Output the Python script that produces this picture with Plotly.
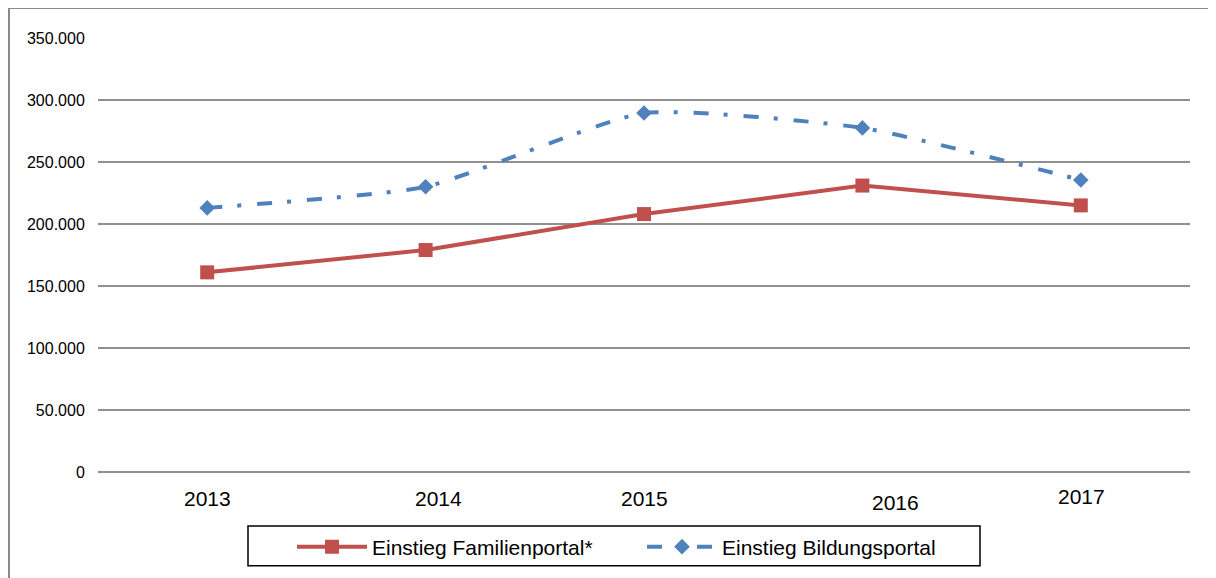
import plotly.graph_objects as go

years = ["2013", "2014", "2015", "2016", "2017"]
familienportal = [161000, 179000, 208000, 231000, 215000]
bildungsportal = [213000, 230000, 289500, 277500, 235500]
y_ticks = [0, 50000, 100000, 150000, 200000, 250000, 300000, 350000]

RED = "#C0504D"
BLUE = "#4F81BD"
GRID = "#8f8f8f"

OFF = 8  # page body margin
W, H = 1216 - OFF, 578 - OFF
PX0, PX1, PY0, PY1 = 98, 1190, 38, 473  # plot area in screen pixels
L, T = PX0 - OFF, PY0 - OFF
R, B = W - (PX1 - OFF), H - (PY1 - OFF)
pw, ph = PX1 - PX0, PY1 - PY0


def px_x(x):
    return (x - PX0) / pw


def px_y(y):
    return (PY1 - y) / ph


fig = go.Figure()
fig.add_trace(go.Scatter(
    x=years, y=familienportal, name="Einstieg Familienportal*",
    mode="lines+markers",
    line=dict(color=RED, width=4),
    marker=dict(symbol="square", size=14, color=RED),
))
fig.add_trace(go.Scatter(
    x=years, y=bildungsportal, name="Einstieg Bildungsportal",
    mode="lines+markers",
    line=dict(color=BLUE, width=4, dash="15px,15px,4px,16px", shape="spline", smoothing=0.5),
    marker=dict(symbol="diamond", size=12, color=BLUE),
))

# x tick labels (slight individual offsets as in the original)
label_xshift = [0, 13, 0, 33, 1]
label_yshift = [-26, -26, -26, -30, -24]
for i, (yr, dx, dy) in enumerate(zip(years, label_xshift, label_yshift)):
    fig.add_annotation(x=i, y=0, xref="x", yref="paper", text=yr, showarrow=False,
                       xshift=dx, yshift=dy, yanchor="middle",
                       font=dict(family="Liberation Sans, Arial", size=21, color="#000"))

# outer chart frame (left and top edges visible)
fx, fy = px_x(9), px_y(8)
fig.add_shape(type="line", xref="paper", yref="paper", x0=fx, x1=fx, y0=-2, y1=fy,
              line=dict(color="#8a8a8a", width=2))
fig.add_shape(type="line", xref="paper", yref="paper", x0=fx, x1=2, y0=fy, y1=fy,
              line=dict(color="#8a8a8a", width=2))
# legend frame
fig.add_shape(type="rect", xref="paper", yref="paper",
              x0=px_x(248), x1=px_x(980), y0=px_y(567), y1=px_y(527),
              line=dict(color="#000", width=1.5), fillcolor="rgba(0,0,0,0)")

fig.update_layout(
    width=W, height=H,
    margin=dict(l=L, r=R, t=T, b=B, pad=0),
    paper_bgcolor="white", plot_bgcolor="white",
    separators=",.",
    font=dict(family="Liberation Sans, Arial", color="#000"),
    showlegend=True,
    legend=dict(
        orientation="h", x=px_x(292), xanchor="left",
        y=px_y(547), yanchor="middle",
        borderwidth=0, bgcolor="rgba(0,0,0,0)",
        font=dict(size=21), itemwidth=70, entrywidth=265,
    ),
    xaxis=dict(
        type="category", range=[-0.5, 4.5], showgrid=False, zeroline=False,
        showticklabels=False, showline=False, fixedrange=True,
    ),
    yaxis=dict(
        range=[0, 350000], tickvals=y_ticks, tickformat=",d",
        showgrid=True, gridcolor=GRID, gridwidth=1.5,
        zeroline=True, zerolinecolor=GRID, zerolinewidth=1.5,
        ticks="outside", ticklen=9, tickcolor="rgba(0,0,0,0)",
        tickfont=dict(size=16, color="#000"), showline=False,
    ),
)

fig.write_html("out.html")
